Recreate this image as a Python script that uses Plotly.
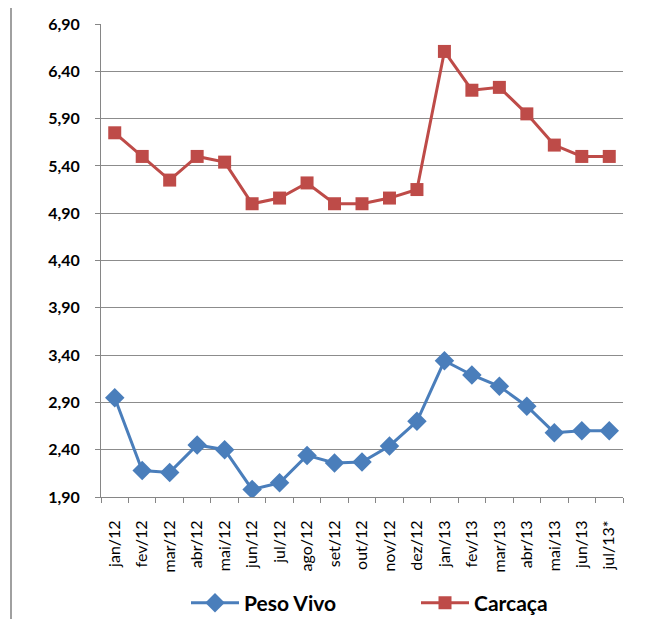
import plotly.graph_objects as go

categories = ["jan/12", "fev/12", "mar/12", "abr/12", "mai/12", "jun/12", "jul/12", "ago/12",
              "set/12", "out/12", "nov/12", "dez/12", "jan/13", "fev/13", "mar/13", "abr/13",
              "mai/13", "jun/13", "jul/13*"]

peso_vivo = [2.95, 2.18, 2.16, 2.45, 2.40, 1.98, 2.05, 2.34, 2.26, 2.27, 2.44, 2.70,
             3.34, 3.19, 3.07, 2.86, 2.58, 2.60, 2.60]
carcaca = [5.75, 5.50, 5.25, 5.50, 5.44, 5.00, 5.06, 5.22, 5.00, 5.00, 5.06, 5.15,
           6.61, 6.20, 6.23, 5.95, 5.62, 5.50, 5.50]

y_ticks = [1.90, 2.40, 2.90, 3.40, 3.90, 4.40, 4.90, 5.40, 5.90, 6.40, 6.90]
y_labels = ["1,90", "2,40", "2,90", "3,40", "3,90", "4,40", "4,90", "5,40", "5,90", "6,40", "6,90"]

# page has 8px body margin, so compensate
OFF = 8
L, T, R, B = 101 - OFF, 24 - OFF, 652 - 623 + OFF, 619 - 497 + OFF
PW = 652 - L - R
PH = 619 - T - B

fig = go.Figure()
fig.add_trace(go.Scatter(x=categories, y=peso_vivo, name="Peso Vivo", mode="lines+markers",
                         line=dict(color="#4A7EBB", width=3),
                         marker=dict(symbol="diamond", size=15, color="#4A7EBB"),
                         legend="legend"))
fig.add_trace(go.Scatter(x=categories, y=carcaca, name="Carcaça", mode="lines+markers",
                         line=dict(color="#BE4B48", width=3),
                         marker=dict(symbol="square", size=13, color="#BE4B48"),
                         legend="legend2"))

leg_y = -(603 - 497) / PH
leg_common = dict(orientation="h", xanchor="left", y=leg_y, yanchor="middle",
                  font=dict(size=21, family="Lato", color="black", weight="bold"),
                  itemwidth=48, bgcolor="rgba(0,0,0,0)")
fig.update_layout(
    width=652, height=619,
    margin=dict(l=L, r=R, t=T, b=B, autoexpand=False),
    paper_bgcolor="white", plot_bgcolor="white",
    font=dict(family="Lato, Open Sans, sans-serif", color="black"),
    showlegend=True,
    legend=dict(x=(186 - 101) / PW, **leg_common),
    legend2=dict(x=(416 - 101) / PW, **leg_common),
    xaxis=dict(type="category", showline=True, linecolor="#868686", linewidth=1,
               ticks="outside", tickson="boundaries", ticklen=5, tickcolor="#868686",
               tickangle=-90, tickfont=dict(size=16, family="Lato", color="black"),
               ticklabelstandoff=16,
               showgrid=False, range=[-0.5, len(categories) - 0.5]),
    yaxis=dict(range=[1.90, 6.90], tickvals=y_ticks, ticktext=y_labels,
               showline=True, linecolor="#868686", linewidth=1,
               ticks="outside", ticklen=5, tickcolor="#868686",
               tickfont=dict(size=16, family="Lato", color="black", weight="bold"),
               ticklabelstandoff=12,
               showgrid=True, gridcolor="#8C8C8C", gridwidth=1, zeroline=False),
)

fig.add_shape(type="line", xref="paper", yref="paper",
              x0=(11 - 101) / PW, x1=(11 - 101) / PW, y0=-1, y1=1.2,
              line=dict(color="#A0A0A0", width=2))

fig.write_html("out.html")
